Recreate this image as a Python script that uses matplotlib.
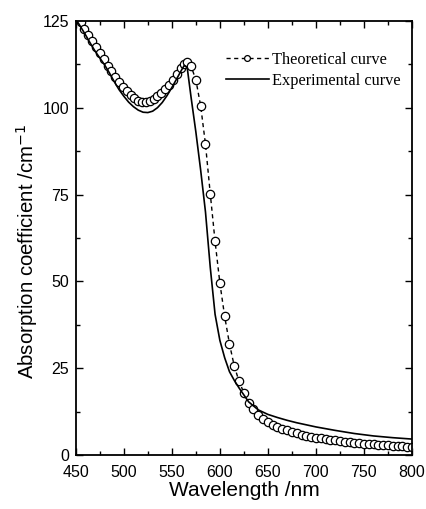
import matplotlib
matplotlib.use("Agg")
import matplotlib.pyplot as plt
from matplotlib.ticker import MultipleLocator

# Theoretical curve (markers)
theo_wl = [455, 459, 463, 467, 471, 475, 479, 483, 487, 491, 495, 499, 503, 507,
           511, 515, 519, 523, 527, 531, 535, 539, 543, 547, 551, 555, 559, 563,
           566, 570, 575, 580, 585, 590, 595, 600, 605, 610, 615, 620, 625, 630,
           635, 640, 645, 650, 655, 660, 665, 670, 675, 680, 685, 690, 695, 700,
           705, 710, 715, 720, 725, 730, 735, 740, 745, 750, 755, 760, 765, 770,
           775, 780, 785, 790, 795, 800]
theo_abs = [124.6, 122.8, 121.0, 119.3, 117.5, 115.8, 114.0, 112.0, 110.5, 108.9,
            107.3, 106.0, 104.8, 103.6, 102.7, 102.0, 101.6, 101.5, 101.8, 102.4,
            103.3, 104.3, 105.3, 106.6, 108.1, 109.7, 111.3, 112.6, 113.2, 112.0,
            108.0, 100.5, 89.5, 75.2, 61.5, 49.5, 39.9, 32.0, 25.6, 21.2, 17.9,
            15.0, 13.3, 11.6, 10.4, 9.4, 8.7, 8.1, 7.6, 7.1, 6.7, 6.3, 5.9, 5.6,
            5.3, 5.0, 4.8, 4.6, 4.4, 4.2, 4.0, 3.8, 3.7, 3.5, 3.4, 3.3, 3.2, 3.1,
            3.0, 2.9, 2.8, 2.7, 2.6, 2.5, 2.4, 2.3]

# Experimental curve (solid line)
exp_wl = [450, 455, 460, 465, 470, 475, 480, 485, 490, 495, 500, 505, 510, 515,
          520, 525, 530, 535, 540, 545, 550, 555, 560, 563, 566, 570, 575, 580,
          585, 590, 595, 600, 605, 610, 615, 620, 630, 640, 650, 660, 670, 680,
          690, 700, 720, 740, 760, 780, 800]
exp_abs = [125.5, 123.3, 121.0, 118.6, 116.3, 114.3, 112.3, 110.0, 107.5, 105.2,
           103.3, 101.6, 100.3, 99.3, 98.7, 98.6, 99.0, 100.0, 101.5, 103.5,
           105.8, 108.3, 110.8, 112.2, 111.5, 103.0, 93.0, 82.0, 70.0, 54.0,
           40.5, 33.0, 28.0, 24.0, 21.5, 19.3, 15.3, 13.0, 11.7, 10.8, 10.0,
           9.3, 8.7, 8.1, 7.1, 6.2, 5.5, 5.0, 4.6]

fig = plt.figure(figsize=(4.26, 5.09), dpi=100)
ax = fig.add_axes([0.178, 0.106, 0.789, 0.853])

ax.plot(theo_wl, theo_abs, linestyle=(0, (3, 2.5)), color="black", linewidth=1.0,
        marker="o", markersize=6, markerfacecolor="white", markeredgecolor="black",
        markeredgewidth=0.9, label="Theoretical curve")
ax.plot(exp_wl, exp_abs, linestyle="-", color="black", linewidth=1.2,
        label="Experimental curve")

ax.set_xlim(450, 800)
ax.set_ylim(0, 125)
ax.xaxis.set_major_locator(MultipleLocator(50))
ax.xaxis.set_minor_locator(MultipleLocator(25))
ax.yaxis.set_major_locator(MultipleLocator(25))
ax.yaxis.set_minor_locator(MultipleLocator(12.5))
ax.tick_params(which="both", direction="in", top=True, right=True, width=1.0)
ax.tick_params(which="major", length=5)
ax.tick_params(which="minor", length=3)
ax.tick_params(labelsize=11.5)
ax.tick_params(axis="x", pad=7)
ax.tick_params(axis="y", pad=5)
for lab in ax.get_xticklabels() + ax.get_yticklabels():
    lab.set_family("Liberation Sans")
for sp in ax.spines.values():
    sp.set_linewidth(1.3)

ax.set_xlabel("Wavelength /nm", fontsize=15, family="Liberation Sans", labelpad=1)
ax.set_ylabel("Absorption coefficient /cm$^{-1}$", fontsize=14.7,
              family="Liberation Sans", labelpad=0)
ax.yaxis.set_label_coords(-0.108, 0.47)

leg = ax.legend(loc="upper left", bbox_to_anchor=(226 / 426, 1 - 52 / 509),
                bbox_transform=fig.transFigure, frameon=False,
                prop={"family": "Liberation Serif", "size": 11.8},
                handlelength=2.6, handletextpad=0.2, borderpad=0,
                borderaxespad=0, labelspacing=0.3, markerscale=0.7)

fig.savefig("out.png", dpi=100)
